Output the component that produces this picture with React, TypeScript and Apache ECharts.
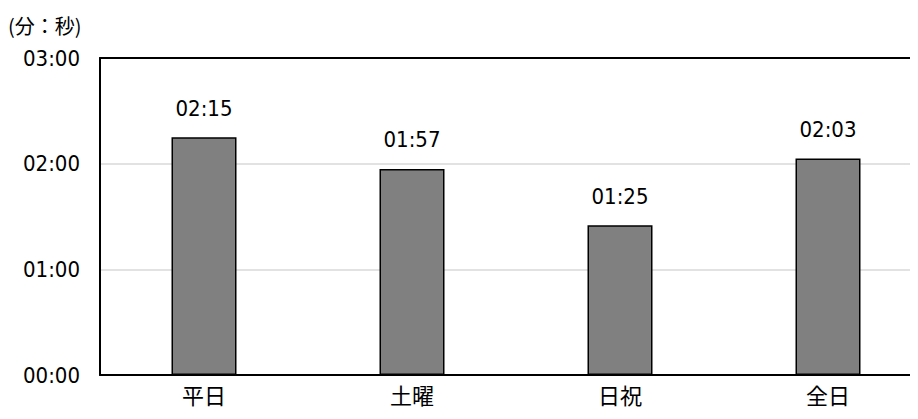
import React, { useEffect, useRef } from "react";
import * as echarts from "echarts";

const categories = ["平日", "土曜", "日祝", "全日"];
const seconds = [135, 117, 85, 123];
const yTicks = [0, 60, 120, 180];
const unitLabel = "(分：秒)";

const fmt = (v: number) => {
  const m = Math.floor(v / 60);
  const s = Math.round(v % 60);
  return `${String(m).padStart(2, "0")}:${String(s).padStart(2, "0")}`;
};

const NUM_FONT = "'DejaVu Sans Condensed', 'Noto Sans CJK JP', sans-serif";
const CJK_FONT = "'Noto Sans CJK JP', sans-serif";

export default function App() {
  const ref = useRef<HTMLDivElement>(null);
  useEffect(() => {
    const chart = echarts.init(ref.current!, null, { renderer: "svg" });
    chart.setOption({
      animation: false,
      textStyle: { fontFamily: NUM_FONT },
      graphic: [
        {
          type: "text",
          left: 0,
          top: 7,
          style: { text: unitLabel, fontSize: 20, fill: "#000", fontFamily: CJK_FONT },
        },
      ],
      grid: { left: 92, right: 0, top: 50, bottom: 44 },
      xAxis: [
        {
          type: "category",
          data: categories,
          axisLine: { lineStyle: { color: "#000", width: 2 } },
          axisTick: { show: false },
          axisLabel: { color: "#000", fontSize: 22, margin: 8, fontFamily: CJK_FONT },
        },
        {
          type: "category",
          data: categories,
          position: "top",
          axisLine: { show: true, lineStyle: { color: "#000", width: 2 } },
          axisTick: { show: false },
          axisLabel: { show: false },
        },
      ],
      yAxis: {
        type: "value",
        min: yTicks[0],
        max: yTicks[yTicks.length - 1],
        interval: 60,
        axisLine: { show: true, lineStyle: { color: "#000", width: 2 } },
        axisTick: { show: false },
        splitLine: { lineStyle: { color: "#d9d9d9", width: 1.5 } },
        axisLabel: { color: "#000", fontSize: 22, margin: 20, formatter: (v: number) => fmt(v) },
      },
      series: [
        {
          type: "bar",
          data: seconds,
          barWidth: "31.25%",
          itemStyle: { color: "#808080", borderColor: "#000", borderWidth: 1.5 },
          label: {
            show: true,
            position: "top",
            distance: 18,
            color: "#000",
            fontSize: 22,
            formatter: (p: any) => fmt(p.value),
          },
        },
      ],
    });
    return () => chart.dispose();
  }, []);
  return (
    <div style={{ width: 910, height: 411, overflow: "hidden" }}>
      <div ref={ref} style={{ width: 924, height: 411 }} />
    </div>
  );
}
